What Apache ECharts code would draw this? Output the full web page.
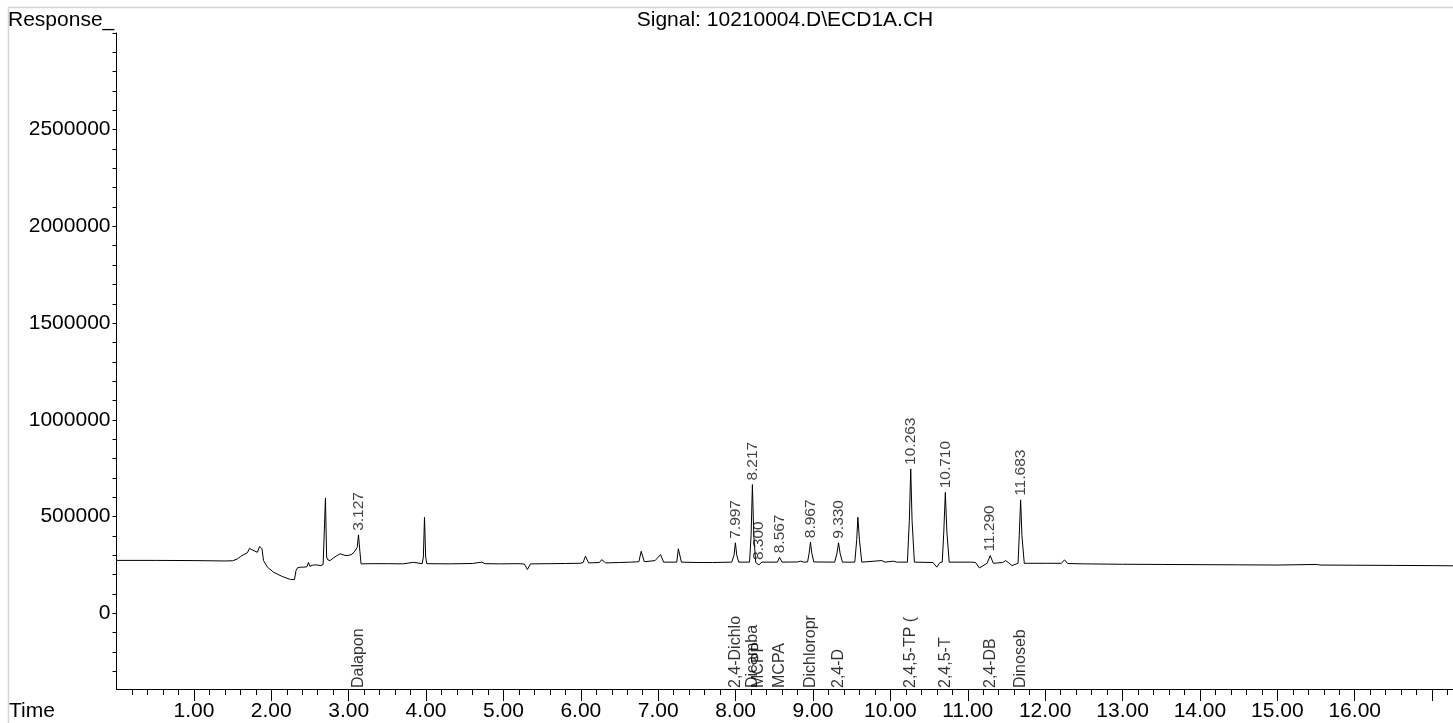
<!DOCTYPE html>
<html>
<head>
<meta charset="utf-8">
<script src="https://cdn.jsdelivr.net/npm/echarts@6/dist/echarts.min.js"></script>
<style>
  html, body { margin: 0; padding: 0; background: #fff; }
  #chart { width: 1453px; height: 723px; }
</style>
</head>
<body>
<div id="chart"></div>
<script>
// ---- DATA ----
const chartTitle = 'Signal: 10210004.D\\ECD1A.CH';
const yAxisName = 'Response_';
const xAxisName = 'Time';

const xLabelValues = [1, 2, 3, 4, 5, 6, 7, 8, 9, 10, 11, 12, 13, 14, 15, 16];
const xMajorTickValues = [1, 2, 3, 4, 5, 6, 7, 8, 9, 10, 11, 12, 13, 14, 15, 16, 17];
const yLabelValues = [0, 500000, 1000000, 1500000, 2000000, 2500000];

// chromatogram trace: [time (min), response]
const trace = [
  [0.00, 273000], [0.50, 273000], [1.00, 272000], [1.40, 270000], [1.50, 271000],
  [1.56, 280000], [1.60, 292000], [1.64, 302000], [1.69, 312000], [1.72, 336000],
  [1.75, 328000], [1.77, 324000], [1.82, 315000], [1.85, 345000], [1.88, 333000],
  [1.90, 272000], [1.95, 238000], [2.03, 212000], [2.14, 190000], [2.25, 174000],
  [2.30, 174000], [2.32, 221000], [2.34, 235000], [2.36, 232000], [2.38, 238000], [2.40, 245000],
  [2.42, 238000], [2.46, 240000], [2.48, 262000], [2.50, 242000], [2.53, 248000], [2.55, 244000],
  [2.58, 250000], [2.60, 246000], [2.64, 246000], [2.67, 252000], [2.685, 262000], [2.70, 596000],
  [2.715, 290000], [2.73, 276000], [2.76, 272000], [2.80, 285000], [2.85, 298000],
  [2.89, 307000], [2.94, 300000], [2.98, 298000], [3.03, 302000], [3.07, 315000],
  [3.09, 305000], [3.11, 340000], [3.127, 405000], [3.145, 320000], [3.16, 255000],
  [3.30, 256000], [3.50, 256000], [3.70, 255000], [3.84, 263000], [3.86, 256000],
  [3.95, 256000], [3.965, 290000], [3.98, 496000], [3.995, 290000], [4.01, 256000],
  [4.30, 255000], [4.60, 257000], [4.72, 264000], [4.76, 256000], [4.96, 255000],
  [5.20, 256000], [5.27, 254000], [5.31, 226000], [5.35, 255000], [5.60, 256000],
  [5.80, 257000], [5.99, 258000], [6.03, 262000], [6.06, 295000], [6.10, 260000],
  [6.24, 262000], [6.27, 277000], [6.32, 260000], [6.50, 262000], [6.64, 264000],
  [6.75, 266000], [6.78, 320000], [6.82, 266000], [6.84, 264000], [6.96, 272000],
  [7.03, 303000], [7.07, 264000], [7.24, 264000], [7.26, 333000], [7.30, 264000],
  [7.50, 262000], [7.70, 262000], [7.95, 264000], [7.98, 300000], [7.997, 364000],
  [8.015, 300000], [8.04, 264000], [8.18, 264000], [8.20, 400000], [8.217, 665000],
  [8.235, 400000], [8.26, 262000], [8.30, 250000], [8.34, 264000], [8.54, 264000],
  [8.567, 289000], [8.60, 264000], [8.80, 265000], [8.84, 269000], [8.88, 264000],
  [8.93, 265000], [8.95, 310000], [8.967, 367000], [8.985, 310000], [9.01, 265000],
  [9.28, 264000], [9.31, 310000], [9.33, 364000], [9.35, 310000], [9.38, 264000],
  [9.54, 264000], [9.565, 380000], [9.58, 496000], [9.60, 380000], [9.63, 264000],
  [9.89, 272000], [9.93, 264000], [10.04, 269000], [10.08, 264000], [10.22, 264000],
  [10.245, 480000], [10.263, 746000], [10.28, 480000], [10.31, 264000], [10.55, 262000],
  [10.60, 238000], [10.64, 262000], [10.67, 264000], [10.69, 420000], [10.71, 625000],
  [10.73, 420000], [10.76, 264000], [11.05, 264000], [11.10, 262000], [11.15, 234000],
  [11.25, 258000], [11.29, 298000], [11.33, 258000], [11.45, 262000], [11.49, 272000],
  [11.53, 260000], [11.57, 246000], [11.65, 258000], [11.665, 400000], [11.683, 586000],
  [11.70, 400000], [11.73, 258000], [12.02, 258000], [12.21, 258000], [12.25, 276000],
  [12.29, 257000], [12.50, 255000], [13.00, 253000], [13.50, 252000], [14.00, 251000],
  [14.50, 250000], [15.00, 249000], [15.51, 252000], [15.55, 249000], [16.00, 248000],
  [16.50, 247000], [17.00, 246000], [17.27, 245000]
];

// integrated peaks: retention time labels and apex response
const peakRT = ['3.127', '7.997', '8.217', '8.300', '8.567', '8.967', '9.330', '10.263', '10.710', '11.290', '11.683'];
const peakApex = [405000, 364000, 665000, 254000, 289000, 367000, 364000, 746000, 625000, 298000, 586000];

// compound names at their retention times
const compoundNames = ['Dalapon', '2,4-Dichlo', 'Dicamba', 'MCPP', 'MCPA', 'Dichloropr', '2,4-D', '2,4,5-TP (', '2,4,5-T', '2,4-DB', 'Dinoseb'];
const compoundRT = [3.127, 7.997, 8.217, 8.300, 8.567, 8.967, 9.330, 10.263, 10.710, 11.290, 11.683];

// ---- CHART ----
const FONT = '"Liberation Sans", Arial, sans-serif';
const Y_MIN = -392000, Y_MAX = 3000000;
const X_MIN = 0, X_MAX = 17.27;

const xMinorTicks = [];
for (let i = 1; i <= 86; i++) { if (i % 5 !== 0) xMinorTicks.push(+(i * 0.2).toFixed(1)); }
const yTicks = [];
for (let v = -300000; v <= 3000000; v += 100000) yTicks.push(v);

const chart = echarts.init(document.getElementById('chart'), null, { renderer: 'canvas' });

const option = {
  animation: false,
  backgroundColor: '#ffffff',
  grid: { left: 116.5, right: 0, top: 33, bottom: 34, containLabel: false },
  xAxis: [
    {
      type: 'value', min: X_MIN, max: X_MAX, position: 'bottom',
      axisLine: { show: true, onZero: false, lineStyle: { color: '#000', width: 1 } },
      axisTick: { show: true, customValues: xMajorTickValues, length: 12, lineStyle: { color: '#000' } },
      axisLabel: {
        show: true, customValues: xLabelValues, margin: 22, verticalAlign: 'middle',
        formatter: v => v.toFixed(2), fontFamily: FONT, fontSize: 21, color: '#000'
      },
      splitLine: { show: false }
    },
    {
      type: 'value', min: X_MIN, max: X_MAX, position: 'bottom', offset: 0,
      axisLine: { show: false, onZero: false },
      axisTick: { show: true, customValues: xMinorTicks, length: 6, lineStyle: { color: '#000' } },
      axisLabel: { show: false },
      splitLine: { show: false }
    }
  ],
  yAxis: {
    type: 'value', min: Y_MIN, max: Y_MAX,
    axisLine: { show: true, onZero: false, lineStyle: { color: '#000', width: 1 } },
    axisTick: { show: true, customValues: yTicks, length: 4, lineStyle: { color: '#000' } },
    axisLabel: {
      show: true, customValues: yLabelValues, margin: 6,
      formatter: v => String(v), fontFamily: FONT, fontSize: 21, color: '#000'
    },
    splitLine: { show: false }
  },
  graphic: [
    { type: 'line', shape: { x1: 8, y1: 7.5, x2: 1453, y2: 7.5 }, style: { stroke: '#d6d6d6', lineWidth: 1.5 }, silent: true },
    { type: 'line', shape: { x1: 8.5, y1: 7, x2: 8.5, y2: 723 }, style: { stroke: '#d6d6d6', lineWidth: 1.5 }, silent: true },
    { type: 'text', left: 8, top: 10, style: { text: yAxisName, font: '21px ' + FONT, fill: '#000' }, silent: true },
    { type: 'text', style: { x: 785, y: 20, text: chartTitle, font: '21px ' + FONT, fill: '#000', textAlign: 'center', textVerticalAlign: 'middle' }, silent: true },
    { type: 'text', style: { x: 9, y: 711.5, text: xAxisName, font: '21px ' + FONT, fill: '#000', textAlign: 'left', textVerticalAlign: 'middle' }, silent: true }
  ],
  series: [
    {
      type: 'line', xAxisIndex: 0, data: trace, showSymbol: false, symbol: 'none',
      lineStyle: { color: '#000', width: 1 }, silent: true, z: 2
    },
    {
      type: 'scatter', xAxisIndex: 0, symbolSize: 0, silent: true, z: 3,
      data: peakRT.map((rt, i) => [parseFloat(rt), peakApex[i], rt]),
      label: {
        show: true, position: 'top', distance: 4, rotate: 90,
        align: 'left', verticalAlign: 'middle',
        formatter: p => p.data[2], fontFamily: FONT, fontSize: 15.5, color: '#111'
      }
    },
    {
      type: 'scatter', xAxisIndex: 0, symbolSize: 0, silent: true, z: 3,
      data: compoundRT.map((rt, i) => [rt, Y_MIN, compoundNames[i]]),
      label: {
        show: true, position: 'top', distance: 1, rotate: 90,
        align: 'left', verticalAlign: 'middle',
        formatter: p => p.data[2], fontFamily: FONT, fontSize: 16, color: '#000'
      }
    }
  ]
};
chart.setOption(option);
</script>
</body>
</html>
